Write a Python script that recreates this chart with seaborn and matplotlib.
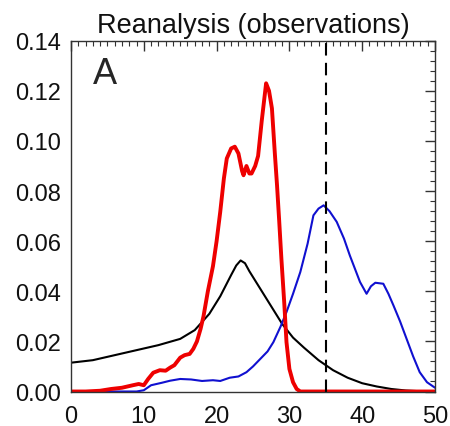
import matplotlib
matplotlib.use("Agg")
import matplotlib.pyplot as plt
import seaborn as sns
import pandas as pd
from matplotlib.ticker import MultipleLocator

black_x = [0, 3, 6, 9, 12, 15, 17, 19, 20.5, 22, 22.7, 23.3, 23.9, 24.5, 26, 27.5, 29, 30.5, 32, 34, 36, 38, 40, 42, 44,
           46, 48, 50]
black_y = [0.0115, 0.0125, 0.0145, 0.0165, 0.0185, 0.021, 0.0245, 0.031, 0.038, 0.0465, 0.0503, 0.0523, 0.0512, 0.048,
           0.041, 0.034, 0.027, 0.0215, 0.0175, 0.0125, 0.0085, 0.0055, 0.0033, 0.002, 0.001, 0.0004, 0.0001, 0.0]

red_x = [0, 2, 4, 5.5, 7, 8.5, 9.3, 10, 10.6, 11.3, 12.2, 13, 13.6, 14.2, 15, 15.6, 16.3, 16.8, 17.3, 17.8, 18.2, 18.8,
         19.5, 20.0, 20.5, 21, 21.4, 22, 22.5, 23, 23.5, 23.7, 24.1, 24.5, 24.8, 25.3, 25.7, 26.2, 26.8, 27.2, 27.6, 28,
         28.3, 28.6, 28.9, 29.3, 29.6, 30, 30.5, 31, 31.5, 50]
red_y = [0, 0, 0.0003, 0.001, 0.0015, 0.0025, 0.003, 0.0025, 0.005, 0.0075, 0.0085, 0.0083, 0.0095, 0.0105, 0.0135,
         0.0145, 0.015, 0.017, 0.02, 0.025, 0.03, 0.04, 0.05, 0.06, 0.0717, 0.085, 0.093, 0.097, 0.0977, 0.095, 0.088,
         0.0863, 0.090, 0.087, 0.087, 0.09, 0.094, 0.108, 0.123, 0.12, 0.113, 0.095, 0.0823, 0.068, 0.053, 0.035, 0.0197,
         0.009, 0.0037, 0.001, 0, 0]

blue_x = [0, 9, 10, 11, 12.5, 13.6, 15, 16.5, 18, 19.5, 20.5, 21.8, 23, 24.1, 25, 26, 27, 27.8, 28.8, 29.6, 30.5, 31.5,
          32.5, 33.3, 34, 34.7, 35.5, 36.5, 37.5, 38.3, 39, 39.7, 40.6, 41.2, 41.8, 42.9, 43.6, 44.3, 45.2, 46.1, 47,
          47.9, 48.9, 50]
blue_y = [0, 0, 0.0005, 0.0025, 0.0035, 0.0043, 0.005, 0.0048, 0.0042, 0.0045, 0.0042, 0.0055, 0.006, 0.0077, 0.01,
          0.013, 0.016, 0.0197, 0.026, 0.0317, 0.039, 0.0477, 0.059, 0.0703, 0.073, 0.0743, 0.072, 0.0677, 0.061, 0.0543,
          0.049, 0.0437, 0.039, 0.042, 0.0434, 0.043, 0.039, 0.0343, 0.028, 0.021, 0.014, 0.0077, 0.0037, 0.0015]

threshold = 35
title = "Reanalysis (observations)"
panel = "A"

sns.set_style("white")
plt.rcParams['font.family'] = ['Liberation Sans', 'DejaVu Sans']

fig = plt.figure(figsize=(4.5, 4.27), dpi=100)
ax = fig.add_axes([71 / 450, 1 - 392.5 / 427, (435 - 71) / 450, (392.5 - 41.7) / 427])

sns.lineplot(x=black_x, y=black_y, ax=ax, color="black", linewidth=1.5, sort=False, estimator=None)
sns.lineplot(x=blue_x, y=blue_y, ax=ax, color="#1010d0", linewidth=1.5, sort=False, estimator=None)
sns.lineplot(x=red_x, y=red_y, ax=ax, color="#ee0000", linewidth=2.8, sort=False, estimator=None)
ax.axvline(threshold, color="black", linewidth=1.5, linestyle=(0, (6, 3.5)))

ax.set_xlim(0, 50)
ax.set_ylim(0, 0.14)
ax.xaxis.set_major_locator(MultipleLocator(10))
ax.xaxis.set_minor_locator(MultipleLocator(1))
ax.yaxis.set_major_locator(MultipleLocator(0.02))
ax.yaxis.set_minor_locator(MultipleLocator(0.004))
ax.yaxis.set_major_formatter(matplotlib.ticker.FormatStrFormatter("%.2f"))
ax.tick_params(which="both", direction="in", top=True, right=True, labelsize=17, color="#333333",
               labelcolor="#111111")
ax.tick_params(axis="x", which="major", pad=10)
ax.tick_params(axis="y", which="major", pad=7)
ax.tick_params(which="major", length=7, width=1)
ax.tick_params(which="minor", length=3.5, width=0.8)
for s in ax.spines.values():
    s.set_linewidth(1.0)
    s.set_color("#333333")
    s.set_visible(True)

ax.set_title(title, fontsize=19.5, pad=6, color="#111111")
ax.text(0.06, 0.955, panel, transform=ax.transAxes, fontsize=26, va="top", ha="left")

fig.savefig("out.png", dpi=100)
